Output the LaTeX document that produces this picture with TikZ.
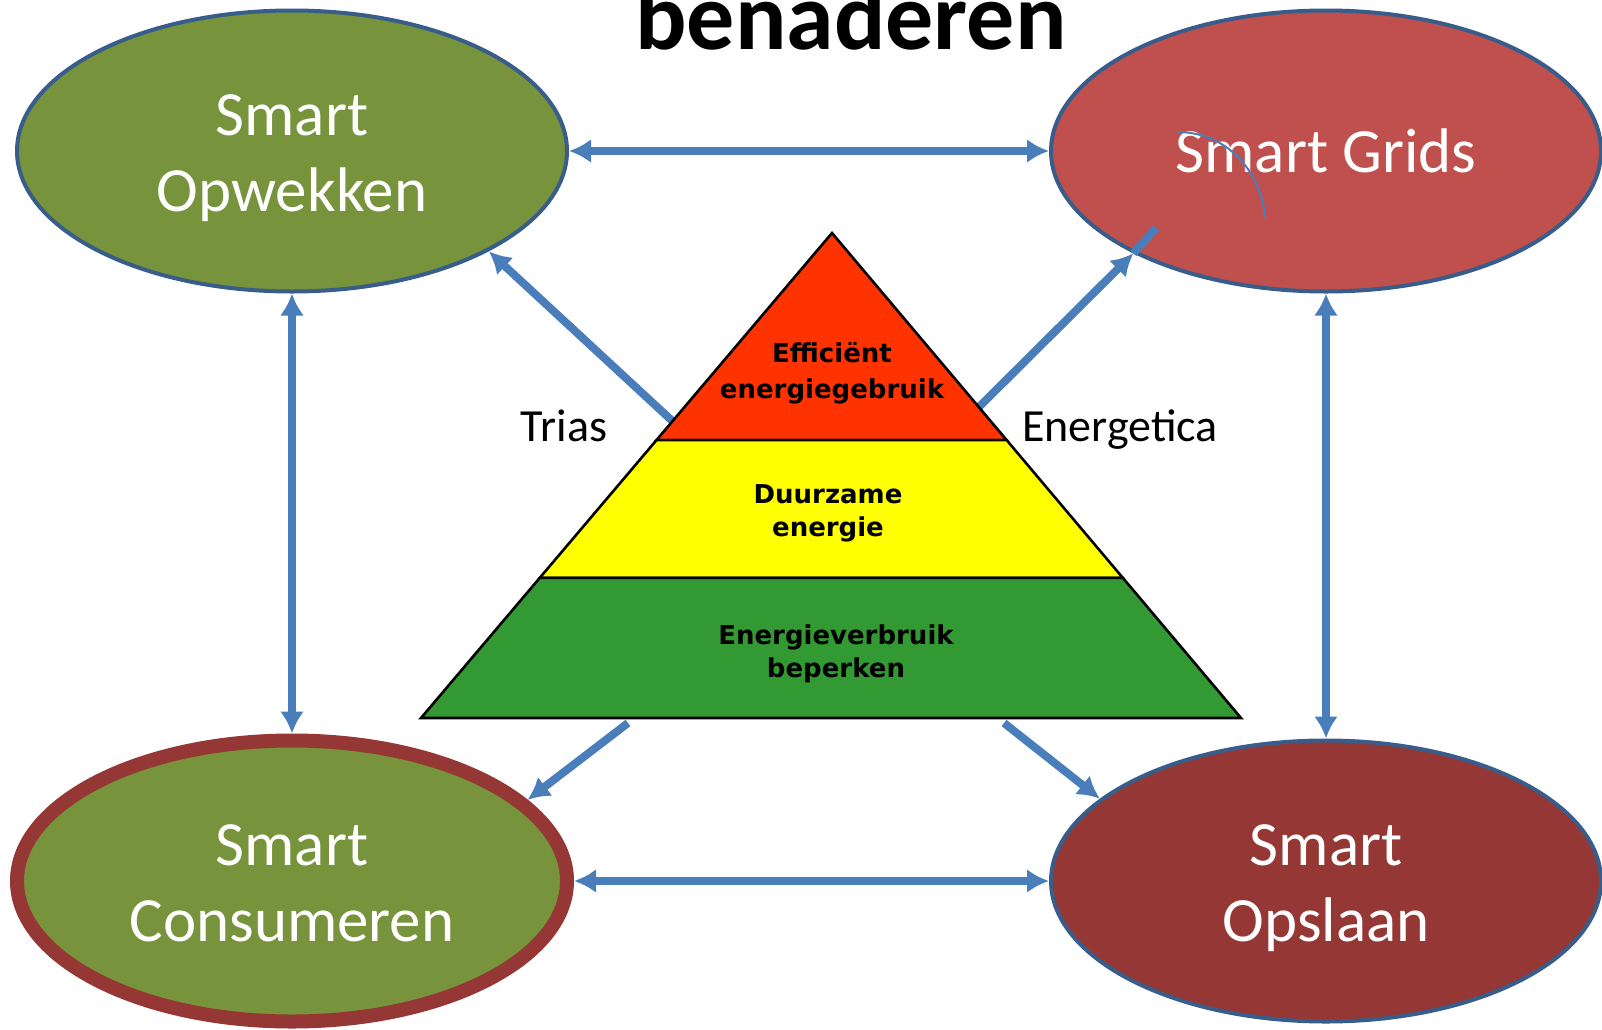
\documentclass[tikz,border=0pt]{standalone}
\usepackage{fontspec}
\setmainfont{Carlito}
\newfontfamily\pyrfont{DejaVu Sans}
\usepackage{tikz}
\usetikzlibrary{arrows.meta}
\usetikzlibrary{shapes.geometric}
\usetikzlibrary{positioning}
\usetikzlibrary{calc}
\usepackage{xcolor}
\definecolor{arrowblue}{HTML}{4A7EBB}
\definecolor{edgeblue}{HTML}{385D8A}
\definecolor{smartgreen}{HTML}{77933C}
\definecolor{smartred}{HTML}{C0504D}
\definecolor{smartdark}{HTML}{953735}
\definecolor{pyrred}{HTML}{FF3300}
\definecolor{pyryellow}{HTML}{FFFF00}
\definecolor{pyrgreen}{HTML}{339933}
\tikzset{
  % arrow tips for all connectors
  >={Latex[length=11pt,width=12pt]},
  % common styles
  line/.style={draw=arrowblue, line width=4pt},
  smart/.style={draw=edgeblue, line width=2pt, ellipse, fill=#1, text=white,
    minimum width=275pt, minimum height=140.5pt, inner sep=0pt, align=center,
    font=\fontsize{31.5}{38}\selectfont},
  twoline/.style={text height=60pt, text depth=0pt}
}

\begin{document}
\begin{tikzpicture}[x=0.5pt, y=-0.5pt]
    % Define styles
    \tikzstyle{pyr} = [draw=black, line width=1.3pt]
    \tikzstyle{layer} = [align=center, font=\pyrfont\bfseries\fontsize{13}{16.5}\selectfont]
    \tikzstyle{label} = [anchor=base, font=\fontsize{23}{28}\selectfont]

    \useasboundingbox (0,0) rectangle (1602,1029);
    \fill[white] (0,0) rectangle (1602,1029);
    \clip (0,0) rectangle (1602,1029);

    % Title
    \node [anchor=base, font=\fontsize{48}{56}\selectfont\bfseries] (titel) at (851,49) {benaderen};

    % Place nodes
    \node [smart=smartgreen, twoline] (opwekken) at (292,151) {Smart\\Opwekken};
    \node [smart=smartred] (grids) at (1326,151) {Smart Grids};
    \node [smart=smartgreen, twoline, draw=smartdark, line width=7pt] (consumeren) at (292,881) {Smart\\Consumeren};
    \node [smart=smartdark, twoline] (opslaan) at (1326,881) {Smart\\Opslaan};

    % Pyramid corners
    \coordinate (top) at (832,233);
    \coordinate (bl) at (421,718);
    \coordinate (br) at (1241,718);
    \coordinate (l1) at ($(top)!0.427!(bl)$);
    \coordinate (r1) at ($(top)!0.427!(br)$);
    \coordinate (l2) at ($(top)!0.711!(bl)$);
    \coordinate (r2) at ($(top)!0.711!(br)$);
    \coordinate (pl) at ($(top)!0.388!(bl)$);
    \coordinate (pr) at ($(top)!0.359!(br)$);
    \coordinate (pbl) at (628,723);
    \coordinate (pbr) at (1004,723);
    \coordinate (gridsend) at (1156,228);

    % Draw edges
    \path [line, <->] (opwekken.east) -- (grids.west);
    \path [line, <->] (consumeren.east) -- (opslaan.west);
    \path [line, <->] (opwekken.south) -- (consumeren.north);
    \path [line, <->] (grids.south) -- (opslaan.north);
    \path [line, ->] (pl) -- (opwekken.-27);
    \path [line, ->] (pr) -- (grids.-152);
    \path [line] (grids.-152) -- (gridsend);
    \path [line, ->] (pbl) -- (consumeren.19);
    \path [line, ->] (pbr) -- (opslaan.160);

    % stray pen stroke on Smart Grids
    \draw [arrowblue, line width=1pt] (1177,132) .. controls (1230,132) and (1262,175) .. (1265,218);

    % Pyramid
    \filldraw [pyr, fill=pyrred] (top) -- (r1) -- (l1) -- cycle;
    \filldraw [pyr, fill=pyryellow] (l1) -- (r1) -- (r2) -- (l2) -- cycle;
    \filldraw [pyr, fill=pyrgreen] (l2) -- (r2) -- (br) -- (bl) -- cycle;
    \node [layer, font=\pyrfont\bfseries\fontsize{13}{18}\selectfont] (efficient) at (832,373) {Efficiënt\\energiegebruik};
    \node [layer] (duurzaam) at (828,513) {Duurzame\\energie};
    \node [layer] (beperken) at (836,654) {Energieverbruik\\beperken};

    % Trias Energetica
    \node [label] (trias) at (564,441) {Trias};
    \node [label] (energetica) at (1120,441) {Energetica};
\end{tikzpicture}
\end{document}
